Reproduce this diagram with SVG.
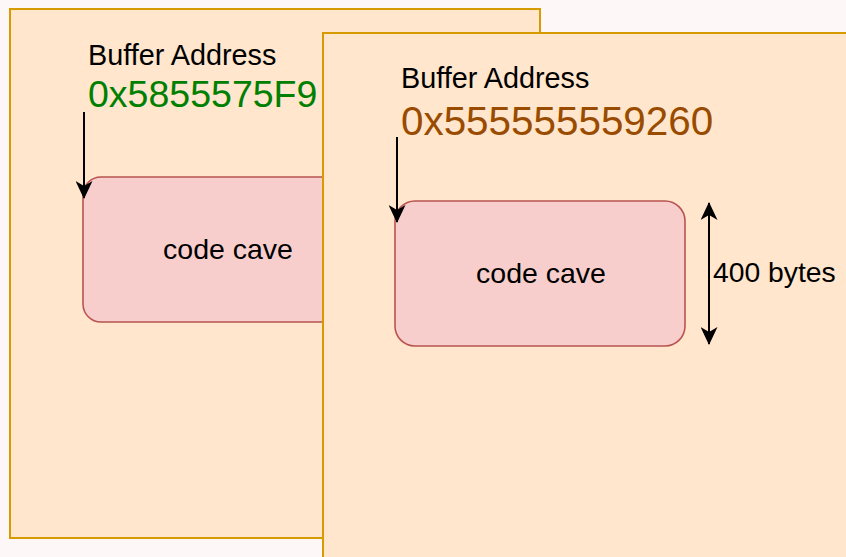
<svg xmlns="http://www.w3.org/2000/svg" width="846" height="557" viewBox="0 0 846 557">
<defs>
<style>
.panel{fill:#ffe6cc;stroke:#d79b00;stroke-width:2}
.cave{fill:#f8cecc;stroke:#b85450;stroke-width:1.6}
.lbl{font-family:"Liberation Sans",Arial,Helvetica,sans-serif;fill:#000}
.conn{stroke:#000;stroke-width:2;fill:none}
</style>
<marker id="arr" viewBox="0 0 18 17" refX="17" refY="8.5" markerWidth="18" markerHeight="17" markerUnits="userSpaceOnUse" orient="auto-start-reverse">
<path d="M0,0 L18,8.5 L0,17 L5,8.5 Z" fill="#000"/>
</marker>
</defs>
<rect x="0" y="0" width="846" height="557" fill="#fdf7f7"/>
<g id="panel-back">
<rect class="panel" x="10" y="9" width="530" height="529"/>
<text class="lbl" x="88" y="65" font-size="28.8">Buffer Address</text>
<text class="lbl" x="88" y="107" font-size="37.5" style="fill:#008000">0x5855575F9</text>
</g>
<g id="cave-back">
<rect class="cave" x="83" y="177" width="290" height="145" rx="18"/>
<text class="lbl" x="228" y="259" font-size="28.5" text-anchor="middle">code cave</text>
</g>
<g id="panel-front">
<rect class="panel" x="323" y="33" width="540" height="540"/>
<text class="lbl" x="401" y="88" font-size="28.8">Buffer Address</text>
<text class="lbl" x="401" y="135" font-size="40.4" style="fill:#994c00">0x555555559260</text>
</g>
<g id="cave-front">
<rect class="cave" x="395" y="201" width="290" height="145" rx="20"/>
<text class="lbl" x="541" y="283" font-size="28.5" text-anchor="middle">code cave</text>
</g>
<g id="size-label">
<text class="lbl" x="713" y="282" font-size="28.3">400 bytes</text>
</g>
<g id="connectors">
<line class="conn" x1="84" y1="112" x2="84" y2="198" marker-end="url(#arr)"/>
<line class="conn" x1="397" y1="137" x2="397" y2="222" marker-end="url(#arr)"/>
<line class="conn" x1="709" y1="203" x2="709" y2="344" marker-start="url(#arr)" marker-end="url(#arr)"/>
</g>
</svg>
